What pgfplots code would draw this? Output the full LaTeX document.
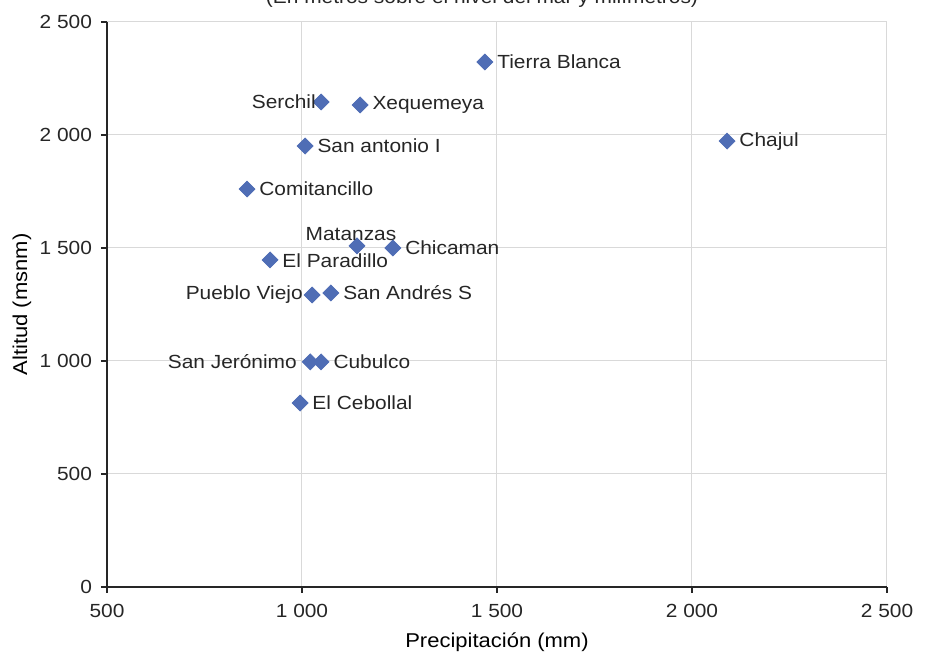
\documentclass[border=0pt]{standalone}
\usepackage{fontspec}
\setmainfont{Liberation Sans}[FakeStretch=1.1]
\usepackage{pgfplots}
\pgfplotsset{compat=1.18}

\definecolor{mk}{RGB}{79,109,181}
\definecolor{gridc}{RGB}{217,217,217}
\newcommand{\chartfont}{\fontsize{9.5}{11}\selectfont}

\begin{document}
\begin{tikzpicture}
\begin{axis}[
    scale only axis,
    width=390pt, height=282.5pt,
    xmin=500, xmax=2500, ymin=0, ymax=2500,
    xtick={500,1000,1500,2000,2500},
    ytick={0,500,1000,1500,2000,2500},
    scaled ticks=false,
    axis lines*=left,
    axis line style={black!85, line width=0.8pt},
    tick align=outside,
    major tick length=3pt,
    tick style={black!85, line width=0.6pt},
    grid=major,
    grid style={gridc, line width=0.5pt},
    /pgf/number format/assume math mode=true,
    /pgf/number format/1000 sep={\ },
    tick label style={font=\chartfont, text=black!85},
    xticklabel style={yshift=-2pt},
    yticklabel style={xshift=-1pt},
    label style={font=\chartfont, text=black!85},
    xlabel={Precipitación (mm)},
    ylabel={Altitud (msnm)},
    every axis x label/.style={at={(axis description cs:0.5,-0.0973)}, anchor=center},
    every axis y label/.style={at={(axis description cs:-0.1090,0.5)}, anchor=center, rotate=90},
    clip=false,
]
\addplot[
    only marks,
    mark=square*,
    mark size=2.8pt,
    mark options={rotate=45, fill=mk, draw=mk},
    nodes near coords,
    point meta=explicit symbolic,
    visualization depends on={value \thisrow{anc}\as\labanc},
    visualization depends on={\thisrow{dx}\as\labdx},
    visualization depends on={\thisrow{dy}\as\labdy},
    every node near coord/.append style={font=\chartfont, text=black!85, inner sep=0pt,
        anchor=\labanc, xshift=\labdx pt, yshift=\labdy pt},
] table[col sep=comma, meta=label] {
x,y,label,anc,dx,dy
1469,2323,Tierra Blanca,west,6,0
1049,2146,Serchil,east,-2.5,0
1149,2133,Xequemeya,west,6,0
1008,1951,San antonio I,west,6,0
859,1761,Comitancillo,west,6,0
2090,1973,Chajul,west,6,0
1141,1509,Matanzas,base,-3,2.5
1233,1500,Chicaman,west,6,0
918,1447,El Paradillo,west,6,-0.5
1026,1292,Pueblo Viejo,east,-4.5,0
1074,1301,San Andrés S,west,6,0
1021,996,San Jerónimo,east,-6.5,0
1049,996,Cubulco,west,6,0
995,814,El Cebollal,west,6,0
};
\end{axis}
\node[anchor=base, font=\chartfont, text=black!85] at ([xshift=187.5pt, yshift=9pt]current axis.north west)
    {(En metros sobre el nivel del mar y milímetros)};
\pgfresetboundingbox
\path[use as bounding box] ([xshift=-53.5pt, yshift=-35.5pt]current axis.south west)
    rectangle ([xshift=20.5pt, yshift=11pt]current axis.north east);
\end{tikzpicture}
\end{document}
